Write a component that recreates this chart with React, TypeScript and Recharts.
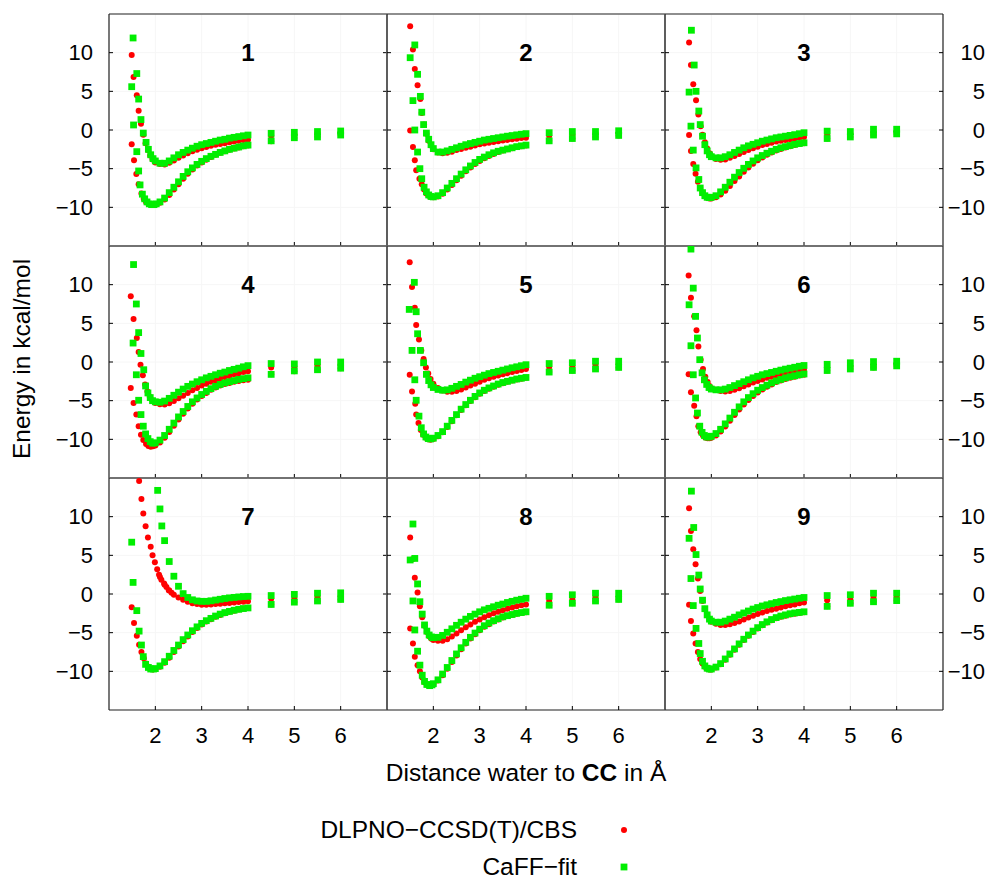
import React from "react";
import { CartesianGrid, ReferenceDot, Scatter, ScatterChart, XAxis, YAxis } from "recharts";

type Pair = [number, number];
type Curve = { wall: Pair[]; y: number[] };
type PanelData = { redUpper: Curve; greenUpper: Curve; redLower: Curve; greenLower: Curve };

// shared x positions for the well / tail part of every curve
const X_GRID = [
  2.1, 2.2, 2.3, 2.4, 2.5, 2.6, 2.7, 2.8, 2.9, 3.0, 3.1, 3.2, 3.3, 3.4, 3.5, 3.6, 3.7, 3.8, 3.9, 4.0,
  4.5, 5.0, 5.5, 6.0,
];
const X_TICKS = [2, 3, 4, 5, 6];
const Y_TICKS = [-10, -5, 0, 5, 10];
const PANEL_LABELS = ["1", "2", "3", "4", "5", "6", "7", "8", "9"];

const P1: PanelData = {
  redUpper: {
    wall: [[1.49, 9.7], [1.53, 6.85], [1.6, 4.5], [1.64, 2.5], [1.69, 0.8], [1.74, -0.6], [1.79, -1.7], [1.84, -2.6], [1.89, -3.3], [1.94, -3.8], [2.0, -4.2]],
    y: [-4.4, -4.45, -4.25, -3.95, -3.6, -3.3, -3.0, -2.75, -2.55, -2.35, -2.2, -2.05, -1.9, -1.8, -1.7, -1.6, -1.5, -1.4, -1.3, -1.25, -0.75, -0.55, -0.4, -0.3],
  },
  greenUpper: {
    wall: [[1.52, 11.9], [1.6, 7.3], [1.64, 4.0], [1.69, 1.35], [1.74, -0.4], [1.8, -1.6], [1.85, -2.5], [1.9, -3.2], [1.95, -3.7], [2.0, -4.0]],
    y: [-4.3, -4.3, -4.0, -3.6, -3.2, -2.9, -2.6, -2.35, -2.1, -1.9, -1.75, -1.6, -1.45, -1.3, -1.2, -1.05, -0.95, -0.85, -0.75, -0.65, -0.43, -0.3, -0.2, -0.13],
  },
  redLower: {
    wall: [[1.49, -1.85], [1.54, -3.9], [1.59, -5.7], [1.64, -7.0], [1.7, -8.2], [1.75, -8.9], [1.8, -9.3], [1.85, -9.55], [1.9, -9.65], [1.95, -9.7], [2.0, -9.65]],
    y: [-9.4, -9.0, -8.4, -7.7, -7.0, -6.3, -5.65, -5.1, -4.6, -4.2, -3.85, -3.5, -3.2, -2.95, -2.75, -2.55, -2.4, -2.25, -2.1, -2.0, -1.45, -1.05, -0.85, -0.65],
  },
  greenLower: {
    wall: [[1.49, 5.6], [1.53, 0.65], [1.6, -2.8], [1.64, -5.3], [1.67, -7.1], [1.72, -8.3], [1.77, -8.9], [1.82, -9.3], [1.87, -9.55], [1.92, -9.65], [1.97, -9.65], [2.02, -9.55]],
    y: [-9.3, -8.8, -8.1, -7.4, -6.7, -6.0, -5.4, -4.9, -4.45, -4.05, -3.7, -3.4, -3.15, -2.9, -2.7, -2.5, -2.35, -2.2, -2.05, -1.95, -1.4, -1.0, -0.9, -0.65],
  },
};

const P2: PanelData = {
  redUpper: {
    wall: [[1.5, 13.4], [1.56, 10.4], [1.6, 7.9], [1.66, 5.8], [1.72, 4.0], [1.75, 2.2], [1.8, 0.7], [1.85, -0.5], [1.9, -1.4], [1.95, -2.0], [2.0, -2.5]],
    y: [-2.9, -3.0, -2.95, -2.8, -2.6, -2.45, -2.3, -2.15, -2.0, -1.85, -1.75, -1.65, -1.55, -1.45, -1.35, -1.28, -1.2, -1.12, -1.05, -1.0, -0.75, -0.6, -0.45, -0.35],
  },
  greenUpper: {
    wall: [[1.6, 11.0], [1.66, 7.2], [1.72, 4.35], [1.75, 2.3], [1.79, 0.7], [1.85, -0.4], [1.9, -1.2], [1.95, -1.9], [2.0, -2.4]],
    y: [-2.85, -2.85, -2.7, -2.5, -2.3, -2.1, -1.9, -1.75, -1.6, -1.45, -1.3, -1.2, -1.1, -1.0, -0.9, -0.8, -0.72, -0.63, -0.55, -0.47, -0.35, -0.2, -0.2, -0.1],
  },
  redLower: {
    wall: [[1.5, -0.05], [1.56, -2.2], [1.6, -3.9], [1.63, -5.2], [1.7, -6.3], [1.75, -7.0], [1.8, -7.7], [1.85, -8.2], [1.9, -8.5], [1.95, -8.65], [2.0, -8.7]],
    y: [-8.6, -8.25, -7.7, -7.1, -6.5, -5.9, -5.35, -4.85, -4.4, -4.0, -3.65, -3.35, -3.1, -2.85, -2.65, -2.5, -2.35, -2.2, -2.1, -2.0, -1.4, -1.1, -0.9, -0.7],
  },
  greenLower: {
    wall: [[1.5, 9.35], [1.56, 3.8], [1.6, 0.0], [1.66, -2.85], [1.71, -5.0], [1.75, -6.3], [1.8, -7.4], [1.85, -8.0], [1.9, -8.4], [1.95, -8.6], [2.0, -8.65]],
    y: [-8.5, -8.1, -7.5, -6.9, -6.3, -5.7, -5.15, -4.65, -4.2, -3.8, -3.5, -3.2, -2.95, -2.75, -2.6, -2.45, -2.3, -2.15, -2.05, -1.95, -1.4, -1.1, -0.9, -0.7],
  },
};

const P3: PanelData = {
  redUpper: {
    wall: [[1.52, 11.3], [1.56, 8.4], [1.61, 5.9], [1.67, 3.85], [1.72, 2.0], [1.77, 0.5], [1.81, -0.6], [1.86, -1.6], [1.91, -2.4], [1.96, -3.0], [2.0, -3.4]],
    y: [-3.75, -3.85, -3.8, -3.6, -3.35, -3.1, -2.85, -2.6, -2.35, -2.15, -1.95, -1.8, -1.65, -1.5, -1.4, -1.3, -1.2, -1.1, -1.0, -0.9, -0.6, -0.5, -0.3, -0.2],
  },
  greenUpper: {
    wall: [[1.57, 12.9], [1.63, 8.4], [1.67, 5.0], [1.73, 2.45], [1.76, 0.7], [1.81, -0.8], [1.86, -1.9], [1.91, -2.7], [1.96, -3.2], [2.0, -3.45]],
    y: [-3.6, -3.6, -3.45, -3.2, -2.9, -2.6, -2.3, -2.05, -1.85, -1.65, -1.45, -1.3, -1.15, -1.0, -0.9, -0.8, -0.7, -0.6, -0.48, -0.35, -0.15, -0.2, 0.1, 0.1],
  },
  redLower: {
    wall: [[1.52, -0.65], [1.56, -2.7], [1.61, -4.4], [1.66, -5.65], [1.71, -6.7], [1.76, -7.5], [1.81, -8.1], [1.86, -8.5], [1.91, -8.75], [1.96, -8.85], [2.0, -8.85]],
    y: [-8.7, -8.35, -7.85, -7.25, -6.6, -6.0, -5.4, -4.85, -4.35, -3.9, -3.55, -3.2, -2.9, -2.65, -2.45, -2.25, -2.1, -1.95, -1.8, -1.7, -1.1, -0.9, -0.65, -0.5],
  },
  greenLower: {
    wall: [[1.52, 4.9], [1.56, 0.5], [1.61, -2.6], [1.67, -4.9], [1.73, -6.4], [1.76, -7.5], [1.81, -8.1], [1.86, -8.5], [1.91, -8.7], [1.96, -8.75], [2.0, -8.7]],
    y: [-8.5, -8.0, -7.4, -6.75, -6.1, -5.5, -4.95, -4.45, -4.0, -3.6, -3.3, -3.0, -2.75, -2.5, -2.3, -2.15, -2.0, -1.85, -1.75, -1.65, -1.1, -0.9, -0.65, -0.5],
  },
};

const P4: PanelData = {
  redUpper: {
    wall: [[1.47, 8.5], [1.53, 5.55], [1.6, 3.1], [1.64, 1.3], [1.68, -0.35], [1.73, -1.7], [1.78, -2.9], [1.83, -3.8], [1.88, -4.5], [1.94, -5.0], [2.0, -5.3]],
    y: [-5.45, -5.5, -5.35, -5.05, -4.7, -4.35, -4.0, -3.65, -3.35, -3.05, -2.8, -2.55, -2.35, -2.15, -1.95, -1.8, -1.6, -1.45, -1.3, -1.2, -0.7, -0.6, -0.45, -0.35],
  },
  greenUpper: {
    wall: [[1.53, 12.6], [1.59, 7.5], [1.64, 3.8], [1.69, 1.1], [1.75, -1.0], [1.79, -3.1], [1.84, -4.0], [1.89, -4.6], [1.94, -5.0], [2.0, -5.15]],
    y: [-5.2, -5.05, -4.7, -4.3, -3.9, -3.5, -3.15, -2.85, -2.55, -2.3, -2.05, -1.85, -1.65, -1.45, -1.3, -1.1, -0.95, -0.8, -0.62, -0.47, -0.2, -0.25, 0.0, 0.0],
  },
  redLower: {
    wall: [[1.47, -3.35], [1.53, -5.3], [1.59, -6.8], [1.64, -8.3], [1.69, -9.4], [1.74, -10.1], [1.8, -10.6], [1.85, -10.85], [1.9, -10.95], [1.95, -10.9], [2.0, -10.8]],
    y: [-10.4, -9.8, -9.05, -8.25, -7.45, -6.7, -6.0, -5.4, -4.85, -4.4, -4.0, -3.6, -3.3, -3.05, -2.85, -2.7, -2.55, -2.45, -2.35, -2.3, -1.6, -1.2, -1.0, -0.8],
  },
  greenLower: {
    wall: [[1.52, 2.45], [1.59, -1.65], [1.64, -4.95], [1.69, -6.8], [1.74, -8.3], [1.79, -9.3], [1.84, -9.9], [1.89, -10.3], [1.94, -10.5], [2.0, -10.45]],
    y: [-10.1, -9.5, -8.7, -7.9, -7.1, -6.4, -5.75, -5.15, -4.65, -4.2, -3.8, -3.45, -3.15, -2.9, -2.7, -2.55, -2.4, -2.25, -2.15, -2.05, -1.6, -1.15, -1.0, -0.8],
  },
};

const P5: PanelData = {
  redUpper: {
    wall: [[1.49, 12.9], [1.54, 9.7], [1.6, 7.0], [1.63, 4.8], [1.69, 2.9], [1.74, 1.5], [1.79, 0.4], [1.84, -0.7], [1.89, -1.5], [1.94, -2.2], [2.0, -2.8]],
    y: [-3.35, -3.7, -3.85, -3.85, -3.75, -3.55, -3.3, -3.05, -2.8, -2.55, -2.3, -2.1, -1.9, -1.75, -1.6, -1.45, -1.3, -1.15, -1.02, -0.9, -0.65, -0.55, -0.35, -0.25],
  },
  greenUpper: {
    wall: [[1.59, 10.3], [1.63, 6.5], [1.66, 3.65], [1.72, 1.5], [1.79, -0.1], [1.85, -1.6], [1.9, -2.4], [1.95, -2.95], [2.0, -3.3]],
    y: [-3.55, -3.65, -3.6, -3.4, -3.15, -2.9, -2.6, -2.35, -2.1, -1.9, -1.7, -1.5, -1.35, -1.2, -1.05, -0.9, -0.75, -0.62, -0.48, -0.35, -0.2, -0.1, 0.1, 0.1],
  },
  redLower: {
    wall: [[1.49, -1.65], [1.54, -3.8], [1.61, -5.4], [1.63, -6.8], [1.68, -7.9], [1.73, -8.8], [1.78, -9.4], [1.84, -9.8], [1.89, -10.0], [1.94, -10.05], [2.0, -9.95]],
    y: [-9.6, -9.1, -8.4, -7.65, -6.9, -6.2, -5.6, -5.05, -4.55, -4.1, -3.75, -3.45, -3.2, -2.95, -2.75, -2.55, -2.4, -2.25, -2.15, -2.05, -1.3, -1.1, -0.9, -0.7],
  },
  greenLower: {
    wall: [[1.48, 6.8], [1.54, 1.5], [1.6, -2.3], [1.63, -4.95], [1.69, -7.0], [1.74, -8.5], [1.79, -9.3], [1.84, -9.7], [1.89, -9.9], [1.94, -9.95], [2.0, -9.85]],
    y: [-9.5, -9.0, -8.3, -7.55, -6.8, -6.1, -5.5, -4.95, -4.45, -4.0, -3.65, -3.35, -3.1, -2.85, -2.65, -2.5, -2.35, -2.2, -2.1, -2.0, -1.3, -1.1, -0.9, -0.7],
  },
};

const P6: PanelData = {
  redUpper: {
    wall: [[1.51, 11.2], [1.56, 8.3], [1.63, 5.9], [1.68, 4.1], [1.72, 2.0], [1.77, 0.3], [1.82, -0.9], [1.87, -1.9], [1.92, -2.6], [1.96, -3.1], [2.0, -3.4]],
    y: [-3.6, -3.75, -3.8, -3.75, -3.6, -3.4, -3.15, -2.9, -2.65, -2.45, -2.25, -2.05, -1.9, -1.75, -1.6, -1.45, -1.35, -1.2, -1.1, -1.0, -0.7, -0.55, -0.35, -0.25],
  },
  greenUpper: {
    wall: [[1.56, 14.6], [1.61, 9.55], [1.66, 5.9], [1.7, 3.1], [1.75, 0.3], [1.8, -1.4], [1.85, -2.3], [1.9, -2.9], [1.95, -3.3], [2.0, -3.5]],
    y: [-3.6, -3.6, -3.5, -3.3, -3.05, -2.8, -2.55, -2.3, -2.05, -1.85, -1.65, -1.5, -1.35, -1.2, -1.05, -0.92, -0.8, -0.68, -0.55, -0.45, -0.3, -0.1, 0.05, 0.1],
  },
  redLower: {
    wall: [[1.51, -1.6], [1.56, -3.9], [1.63, -5.65], [1.68, -7.0], [1.72, -8.3], [1.77, -9.1], [1.82, -9.5], [1.87, -9.75], [1.92, -9.85], [1.96, -9.85], [2.0, -9.8]],
    y: [-9.5, -9.0, -8.35, -7.6, -6.85, -6.15, -5.5, -4.9, -4.4, -3.95, -3.55, -3.2, -2.9, -2.6, -2.4, -2.2, -2.05, -1.9, -1.75, -1.65, -1.1, -0.9, -0.7, -0.5],
  },
  greenLower: {
    wall: [[1.52, 7.4], [1.56, 2.1], [1.61, -1.65], [1.66, -4.65], [1.7, -6.6], [1.75, -8.3], [1.8, -9.1], [1.85, -9.5], [1.9, -9.7], [1.95, -9.7], [2.0, -9.6]],
    y: [-9.25, -8.7, -8.0, -7.25, -6.5, -5.8, -5.15, -4.6, -4.1, -3.65, -3.3, -3.0, -2.7, -2.45, -2.25, -2.05, -1.9, -1.78, -1.65, -1.55, -1.1, -0.9, -0.7, -0.5],
  },
};

const P7: PanelData = {
  redUpper: {
    wall: [[1.65, 14.6], [1.7, 12.3], [1.74, 10.4], [1.79, 8.75], [1.84, 7.3], [1.9, 6.1], [1.94, 5.0], [1.99, 4.1], [2.04, 3.2], [2.08, 2.5], [2.13, 1.85], [2.19, 1.35], [2.24, 0.9], [2.29, 0.5], [2.35, 0.15]],
    y: [2.2, 1.2, 0.45, -0.1, -0.45, -0.75, -1.0, -1.2, -1.3, -1.4, -1.4, -1.35, -1.3, -1.25, -1.2, -1.15, -1.1, -1.05, -1.0, -0.95, -0.6, -0.6, -0.4, -0.3],
  },
  greenUpper: {
    wall: [[2.05, 13.4], [2.14, 8.8]],
    y: [11.0, 6.9, 4.2, 2.3, 1.0, 0.05, -0.45, -0.75, -0.9, -0.95, -0.95, -0.88, -0.78, -0.68, -0.58, -0.5, -0.44, -0.38, -0.33, -0.3, -0.2, -0.05, 0.1, 0.15],
  },
  redLower: {
    wall: [[1.49, -1.7], [1.54, -3.75], [1.6, -5.4], [1.65, -6.55], [1.7, -7.5], [1.75, -8.3], [1.8, -9.0], [1.85, -9.4], [1.9, -9.65], [1.95, -9.75], [2.0, -9.7]],
    y: [-9.4, -8.9, -8.25, -7.5, -6.8, -6.1, -5.5, -4.9, -4.4, -3.95, -3.55, -3.25, -2.95, -2.7, -2.5, -2.3, -2.15, -2.0, -1.9, -1.82, -1.35, -1.05, -0.9, -0.7],
  },
  greenLower: {
    wall: [[1.49, 6.7], [1.52, 1.5], [1.6, -2.15], [1.65, -4.8], [1.7, -6.6], [1.74, -8.1], [1.79, -9.1], [1.85, -9.5], [1.9, -9.7], [1.96, -9.7], [2.0, -9.65]],
    y: [-9.3, -8.75, -8.05, -7.3, -6.6, -5.9, -5.3, -4.75, -4.25, -3.8, -3.45, -3.15, -2.85, -2.6, -2.4, -2.25, -2.1, -1.98, -1.88, -1.8, -1.35, -1.05, -0.9, -0.7],
  },
};

const P8: PanelData = {
  redUpper: {
    wall: [[1.5, 7.3], [1.55, 4.5], [1.6, 2.1], [1.66, 0.2], [1.71, -1.6], [1.76, -3.0], [1.81, -4.1], [1.86, -4.9], [1.91, -5.45], [1.96, -5.8], [2.0, -5.95]],
    y: [-6.05, -6.05, -5.85, -5.5, -5.1, -4.7, -4.3, -3.95, -3.6, -3.3, -3.0, -2.75, -2.5, -2.3, -2.1, -1.9, -1.75, -1.6, -1.45, -1.35, -0.9, -0.7, -0.5, -0.35],
  },
  greenUpper: {
    wall: [[1.56, 9.05], [1.6, 4.6], [1.66, 1.3], [1.71, -1.0], [1.76, -2.6], [1.81, -4.0], [1.86, -4.8], [1.91, -5.3], [1.96, -5.55], [2.0, -5.65]],
    y: [-5.6, -5.35, -4.95, -4.5, -4.05, -3.65, -3.25, -2.9, -2.6, -2.3, -2.05, -1.85, -1.65, -1.45, -1.3, -1.1, -0.95, -0.8, -0.68, -0.55, -0.3, -0.1, 0.1, 0.1],
  },
  redLower: {
    wall: [[1.5, -4.45], [1.56, -6.4], [1.6, -8.1], [1.66, -9.2], [1.71, -10.0], [1.76, -10.8], [1.81, -11.4], [1.86, -11.75], [1.92, -11.9], [1.97, -11.8], [2.0, -11.65]],
    y: [-11.2, -10.5, -9.65, -8.8, -7.95, -7.15, -6.4, -5.75, -5.2, -4.7, -4.25, -3.9, -3.55, -3.3, -3.05, -2.85, -2.7, -2.55, -2.45, -2.35, -1.45, -1.2, -0.9, -0.7],
  },
  greenLower: {
    wall: [[1.5, 4.4], [1.56, -0.9], [1.6, -4.65], [1.66, -7.4], [1.71, -9.2], [1.76, -10.5], [1.81, -11.3], [1.86, -11.7], [1.92, -11.85], [1.97, -11.75], [2.0, -11.6]],
    y: [-11.1, -10.35, -9.5, -8.6, -7.75, -6.95, -6.25, -5.6, -5.05, -4.55, -4.1, -3.75, -3.45, -3.2, -2.95, -2.8, -2.65, -2.5, -2.4, -2.3, -1.45, -1.2, -0.9, -0.7],
  },
};

const P9: PanelData = {
  redUpper: {
    wall: [[1.52, 11.1], [1.56, 8.15], [1.61, 5.8], [1.66, 3.85], [1.71, 2.0], [1.76, 0.4], [1.81, -0.9], [1.86, -1.9], [1.91, -2.7], [1.96, -3.3], [2.0, -3.6]],
    y: [-3.85, -4.0, -4.0, -3.9, -3.75, -3.55, -3.3, -3.05, -2.8, -2.6, -2.4, -2.2, -2.05, -1.9, -1.75, -1.6, -1.45, -1.35, -1.2, -1.1, -0.8, -0.7, -0.5, -0.4],
  },
  greenUpper: {
    wall: [[1.57, 13.3], [1.62, 8.6], [1.67, 5.1], [1.73, 2.45], [1.76, 0.65], [1.81, -0.8], [1.86, -1.9], [1.91, -2.7], [1.96, -3.25], [2.0, -3.5]],
    y: [-3.65, -3.65, -3.5, -3.25, -3.0, -2.7, -2.45, -2.2, -1.95, -1.75, -1.55, -1.4, -1.25, -1.1, -0.98, -0.85, -0.75, -0.65, -0.55, -0.45, -0.2, -0.1, 0.1, 0.1],
  },
  redLower: {
    wall: [[1.52, -1.4], [1.56, -3.5], [1.61, -5.1], [1.66, -6.4], [1.71, -7.5], [1.76, -8.4], [1.81, -9.0], [1.86, -9.4], [1.91, -9.65], [1.96, -9.75], [2.0, -9.75]],
    y: [-9.5, -9.1, -8.5, -7.85, -7.2, -6.55, -5.95, -5.4, -4.9, -4.45, -4.05, -3.7, -3.4, -3.15, -2.95, -2.8, -2.65, -2.55, -2.45, -2.35, -1.6, -1.2, -1.0, -0.85],
  },
  greenLower: {
    wall: [[1.52, 7.2], [1.56, 2.0], [1.61, -1.5], [1.67, -4.45], [1.73, -6.4], [1.76, -7.7], [1.81, -8.7], [1.86, -9.3], [1.91, -9.6], [1.96, -9.7], [2.0, -9.7]],
    y: [-9.45, -9.0, -8.4, -7.75, -7.1, -6.45, -5.85, -5.3, -4.8, -4.35, -3.95, -3.6, -3.3, -3.05, -2.85, -2.7, -2.55, -2.45, -2.38, -2.3, -1.6, -1.2, -1.0, -0.85],
  },
};

const PANELS = [P1, P2, P3, P4, P5, P6, P7, P8, P9];

const RED = "#ff0000";
const GREEN = "#00ee00";
const FONT = "'Liberation Sans', Arial, sans-serif";
const TICK_FS = 22;
const TITLE_FS = 24.5;

const PLOT_LEFT = 109;
const PLOT_TOP = 14;
const PW = 278;
const PH = 232;
const AX = 60;
const TOP_H = 10;
const BOT_H = 40;
const FRAME = { stroke: "#222", strokeWidth: 1.2 };

function toPoints(c: Curve) {
  const pts = c.wall.map(([x, y]) => ({ x, y }));
  c.y.forEach((y, i) => pts.push({ x: X_GRID[i], y }));
  return pts.filter((p) => p.y >= -15 && p.y <= 15);
}

const redDot = (p: any) => <circle cx={p.cx} cy={p.cy} r={3} fill={RED} />;
const greenSquare = (p: any) => <rect x={p.cx - 3.4} y={p.cy - 3.4} width={6.8} height={6.8} fill={GREEN} />;

function Panel({ data, idx }: { data: PanelData; idx: number }) {
  const row = Math.floor(idx / 3);
  const col = idx % 3;
  const left = PLOT_LEFT + col * PW - AX;
  const top = PLOT_TOP + row * PH - TOP_H;

  const bottomTick = (p: any) => (
    <g>
      <line x1={p.x} y1={p.y} x2={p.x} y2={p.y - 4} stroke="#000" />
      {row === 2 && (
        <text x={p.x} y={p.y + 25} dy="0.35em" textAnchor="middle" fontSize={TICK_FS} fontFamily={FONT} fill="#000">
          {p.payload.value}
        </text>
      )}
    </g>
  );
  const topTick = (p: any) => <line x1={p.x} y1={p.y} x2={p.x} y2={p.y + 4} stroke="#000" />;
  const leftTick = (p: any) => (
    <g>
      <line x1={p.x} y1={p.y} x2={p.x + 4} y2={p.y} stroke="#000" />
      {col === 0 && (
        <text x={p.x - 16} y={p.y} dy="0.35em" textAnchor="end" fontSize={TICK_FS} fontFamily={FONT} fill="#000">
          {String(p.payload.value).replace("-", "\u2212")}
        </text>
      )}
    </g>
  );
  const rightTick = (p: any) => (
    <g>
      <line x1={p.x} y1={p.y} x2={p.x - 4} y2={p.y} stroke="#000" />
      {col === 2 && (
        <text x={p.x + 42} y={p.y} dy="0.35em" textAnchor="end" fontSize={TICK_FS} fontFamily={FONT} fill="#000">
          {String(p.payload.value).replace("-", "\u2212")}
        </text>
      )}
    </g>
  );

  return (
    <div style={{ position: "absolute", left, top }}>
      <ScatterChart width={PW + 2 * AX} height={PH + TOP_H + BOT_H} margin={{ top: 0, right: 0, bottom: 0, left: 0 }}>
        <CartesianGrid xAxisId="b" yAxisId="l" stroke="#f6f6f6" />
        <XAxis xAxisId="b" dataKey="x" type="number" domain={[1, 7]} ticks={X_TICKS} interval={0} height={BOT_H}
          allowDataOverflow tickSize={0} tickMargin={0} tickLine={false} axisLine={FRAME} tick={bottomTick} />
        <XAxis xAxisId="t" orientation="top" type="number" domain={[1, 7]} ticks={X_TICKS} interval={0} height={TOP_H}
          allowDataOverflow tickSize={0} tickMargin={0} tickLine={false} axisLine={FRAME} tick={topTick} />
        <YAxis yAxisId="l" dataKey="y" type="number" domain={[-15, 15]} ticks={Y_TICKS} interval={0} width={AX}
          allowDataOverflow tickSize={0} tickMargin={0} tickLine={false} axisLine={FRAME} tick={leftTick} />
        <YAxis yAxisId="r" orientation="right" type="number" domain={[-15, 15]} ticks={Y_TICKS} interval={0} width={AX}
          allowDataOverflow tickSize={0} tickMargin={0} tickLine={false} axisLine={FRAME} tick={rightTick} />
        <Scatter xAxisId="b" yAxisId="l" data={toPoints(data.redUpper)} shape={redDot} isAnimationActive={false} />
        <Scatter xAxisId="b" yAxisId="l" data={toPoints(data.redLower)} shape={redDot} isAnimationActive={false} />
        <Scatter xAxisId="b" yAxisId="l" data={toPoints(data.greenUpper)} shape={greenSquare} isAnimationActive={false} />
        <Scatter xAxisId="b" yAxisId="l" data={toPoints(data.greenLower)} shape={greenSquare} isAnimationActive={false} />
        <ReferenceDot xAxisId="b" yAxisId="l" x={4} y={10} r={0} fill="none" stroke="none"
          label={{ value: PANEL_LABELS[idx], position: "center", fontSize: 24, fontWeight: "bold", fill: "#000", fontFamily: FONT }} />
      </ScatterChart>
    </div>
  );
}

export default function App() {
  return (
    <div style={{ position: "absolute", left: 0, top: 0, width: 1003, height: 879, background: "#fff", fontFamily: FONT, color: "#000" }}>
      {PANELS.map((d, i) => (
        <Panel key={i} data={d} idx={i} />
      ))}
      <div style={{ position: "absolute", left: 22, top: 359, transform: "translate(-50%, -50%) rotate(-90deg)", whiteSpace: "nowrap", fontSize: TITLE_FS }}>
        Energy in kcal/mol
      </div>
      <div style={{ position: "absolute", left: 526, top: 773, transform: "translate(-50%, -50%)", whiteSpace: "nowrap", fontSize: TITLE_FS }}>
        Distance water to <b>CC</b> in Å
      </div>
      <div style={{ position: "absolute", right: 1003 - 577, top: 830, transform: "translateY(-50%)", whiteSpace: "nowrap", fontSize: TITLE_FS }}>
        DLPNO−CCSD(T)/CBS
      </div>
      <div style={{ position: "absolute", right: 1003 - 577, top: 867, transform: "translateY(-50%)", whiteSpace: "nowrap", fontSize: TITLE_FS }}>
        CaFF−fit
      </div>
      <svg style={{ position: "absolute", left: 610, top: 815 }} width={30} height={70}>
        <circle cx={14} cy={15} r={3} fill={RED} />
        <rect x={10.6} y={48.6} width={6.8} height={6.8} fill={GREEN} />
      </svg>
    </div>
  );
}
